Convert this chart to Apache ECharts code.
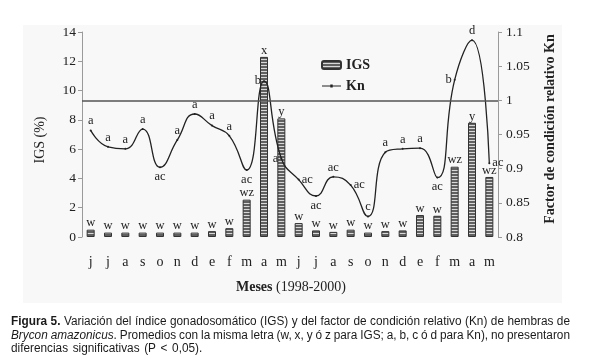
<!DOCTYPE html>
<html><head><meta charset="utf-8">
<script src="https://cdn.jsdelivr.net/npm/echarts@6/dist/echarts.min.js"></script>
<style>html,body{margin:0;padding:0;background:#fff}#c{width:589px;height:363px}</style>
</head><body><div id="c"></div>
<script>
// ---- data ----
const months = ['j','j','a','s','o','n','d','e','f','m','a','m','j','j','a','s','o','n','d','e','f','m','a','m'];
const igs = [0.5,0.3,0.3,0.3,0.3,0.3,0.3,0.4,0.6,2.55,12.3,8.1,0.95,0.45,0.35,0.5,0.3,0.4,0.45,1.5,1.45,4.8,7.8,4.1];
const kn  = [0.956,0.932,0.929,0.958,0.902,0.942,0.98,0.963,0.948,0.898,1.028,0.915,0.884,0.86,0.888,0.876,0.83,0.924,0.929,0.93,0.887,1.03,1.088,0.908];
const igsLetters = ['w','w','w','w','w','w','w','w','w','wz','x','y','w','w','w','w','w','w','w','w','w','wz','y','wz'];
const knLetters  = ['a','a','a','a','ac','a','a','a','a','ac','b','a','ac','ac','ac','ac','c','a','a','a','ac','b','d','ac'];
const leftTicks = ['0','2','4','6','8','10','12','14'];
const rightTicks = ['0.8','0.85','0.9','0.95','1','1.05','1.1'];

// ---- style config ----
const knLabelPos = ['top','top','top','top','bottom','top','top','top','top','bottom','left','left','right','bottom','top','right','top','top','top','top','bottom','left','top','right'];
const SERIF = '"Liberation Serif", "Times New Roman", serif';
const SANS = '"Liberation Sans Narrow", "Arial Narrow", "Liberation Sans", sans-serif';

// stripe pattern for bars
const pc = document.createElement('canvas');
pc.width = 4; pc.height = 3;
const pctx = pc.getContext('2d');
pctx.fillStyle = '#606060'; pctx.fillRect(0,0,4,3);
pctx.fillStyle = '#d8d8d8'; pctx.fillRect(0,2,4,1);

const chart = echarts.init(document.getElementById('c'), null, {renderer:'canvas'});

// caption justification
const mc = document.createElement('canvas').getContext('2d');
const capSize = 12.5;
function fontStr(st){ return (st.i?'italic ':'') + (st.b?'bold ':'') + capSize + 'px ' + SANS; }
const capLines = [
  {just:true, toks:[{t:'Figura',b:1},{t:'5.',b:1},'Variación','del','índice','gonadosomático','(IGS)','y','del','factor','de','condición','relativo','(Kn)','de','hembras','de']},
  {just:true, toks:[{t:'Brycon',i:1},{t:'amazonicus',i:1},{t:'.',glue:1},'Promedios','con','la','misma','letra','(w,','x,','y','ó','z','para','IGS;','a,','b,','c','ó','d','para','Kn),','no','presentaron']},
  {just:false, toks:['diferencias','significativas','(P','<','0,05).']}
];
const capX0 = 11, capX1 = 570, capY = [322, 335.5, 349];
mc.font = fontStr({});
const spaceW = mc.measureText(' ').width;
let l3 = 0; capLines[2].toks.forEach((tk,k)=>{ mc.font = fontStr({}); l3 += mc.measureText(tk).width + (k?spaceW:0); });
const sx = 186 / l3;
const capGraphics = [];
capLines.forEach((ln, li) => {
  const toks = ln.toks.map(t => typeof t === 'string' ? {t:t} : t);
  toks.forEach(t => { mc.font = fontStr(t); t.w = mc.measureText(t.t).width * sx; });
  const gaps = toks.filter((t,k)=>k>0 && !t.glue).length;
  const sumW = toks.reduce((a,t)=>a+t.w,0);
  const gapW = ln.just ? (capX1 - capX0 - sumW) / gaps : spaceW * sx * 1.4;
  let x = capX0;
  toks.forEach((t,k) => {
    if (k>0 && !t.glue) x += gapW;
    capGraphics.push({type:'text', x:x, y:capY[li], scaleX:sx, scaleY:1,
      style:{text:t.t, font:fontStr(t), fill:'#1a1a1a', textVerticalAlign:'middle', verticalAlign:'middle', textAlign:'left', align:'left'}});
    x += t.w;
  });
});

const knIcon = 'path://M0,0 L0.01,0 L0,0.01 Z M19,8 L18.99,8 L19,7.99 Z M0,3.4 L19,3.4 L19,4.6 L0,4.6 Z M8.3,2.6 L10.7,2.6 L10.7,5.4 L8.3,5.4 Z';

const option = {
  animation:false,
  backgroundColor:'#ffffff',
  grid:{left:82, right:91, top:32, bottom:126},
  legend:{
    data:[{name:'IGS'},{name:'Kn', icon:knIcon}], orient:'vertical', left:316, top:53, itemWidth:19, itemHeight:8, itemGap:7,
    textStyle:{fontFamily:SERIF, fontWeight:'bold', fontSize:14, color:'#222'}
  },
  xAxis:{
    type:'category', data:months,
    axisLine:{show:false}, axisTick:{show:false},
    axisLabel:{fontFamily:SERIF, fontSize:14, color:'#222', margin:18, interval:0}
  },
  yAxis:[
    {type:'value', min:0, max:14, interval:2, position:'left',
     axisLine:{show:true, lineStyle:{color:'#9a9a9a'}},
     axisTick:{show:true, length:4, lineStyle:{color:'#9a9a9a'}},
     splitLine:{show:false},
     axisLabel:{fontFamily:SERIF, fontSize:13.5, color:'#222', margin:6,
       formatter:(v)=>leftTicks[Math.round(v/2)]}},
    {type:'value', min:0.8, max:1.1, interval:0.05, position:'right',
     axisLine:{show:true, lineStyle:{color:'#9a9a9a'}},
     axisTick:{show:true, length:4, lineStyle:{color:'#9a9a9a'}},
     splitLine:{show:false},
     axisLabel:{fontFamily:SERIF, fontSize:13.5, color:'#222', margin:8,
       formatter:(v)=>rightTicks[Math.round((v-0.8)/0.05)]}}
  ],
  series:[
    {name:'IGS', type:'bar', yAxisIndex:0, barWidth:8, data:igs,
     itemStyle:{color:{image:pc, repeat:'repeat'}, borderColor:'#333', borderWidth:1},
     label:{show:true, position:'top', distance:0, fontFamily:SERIF, fontSize:12.5, color:'#222',
       formatter:(p)=>igsLetters[p.dataIndex]}},
    {name:'Kn', type:'line', yAxisIndex:1, smooth:0.5, symbol:'circle', symbolSize:2, showSymbol:true,
     itemStyle:{color:'#222'}, lineStyle:{color:'#222', width:1.3},
     data:kn.map((v,i)=>({value:v, label:{position:knLabelPos[i]}})),
     label:{show:true, distance:2, fontFamily:SERIF, fontSize:12.5, color:'#222',
       formatter:(p)=>knLetters[p.dataIndex]},
     markLine:{silent:true, symbol:'none', label:{show:false},
       lineStyle:{color:'#555', width:1.5, type:'solid'}, data:[{yAxis:1}]}}
  ],
  graphic:[
    {type:'rect', z:-10, silent:true, shape:{x:23, y:25, width:539, height:278}, style:{fill:'#f8f8f8'}},
    {type:'text', x:40, y:140, rotation:Math.PI/2,
     style:{text:'IGS (%)', font:'14px '+SERIF, fill:'#222', textAlign:'center', align:'center', textVerticalAlign:'middle', verticalAlign:'middle'}},
    {type:'text', x:550, y:129, rotation:Math.PI/2,
     style:{text:'Factor de condición relativo Kn', font:'bold 14px '+SERIF, fill:'#222', textAlign:'center', align:'center', textVerticalAlign:'middle', verticalAlign:'middle'}},
    {type:'text', x:291, y:287,
     style:{text:'{b|Meses} (1998-2000)', font:'14px '+SERIF, fill:'#222', textAlign:'center', align:'center', textVerticalAlign:'middle', verticalAlign:'middle',
       rich:{b:{fontWeight:'bold', fontSize:14, fontFamily:SERIF, fill:'#222'}}}}
  ].concat(capGraphics)
};
chart.setOption(option);
</script>
</body></html>
